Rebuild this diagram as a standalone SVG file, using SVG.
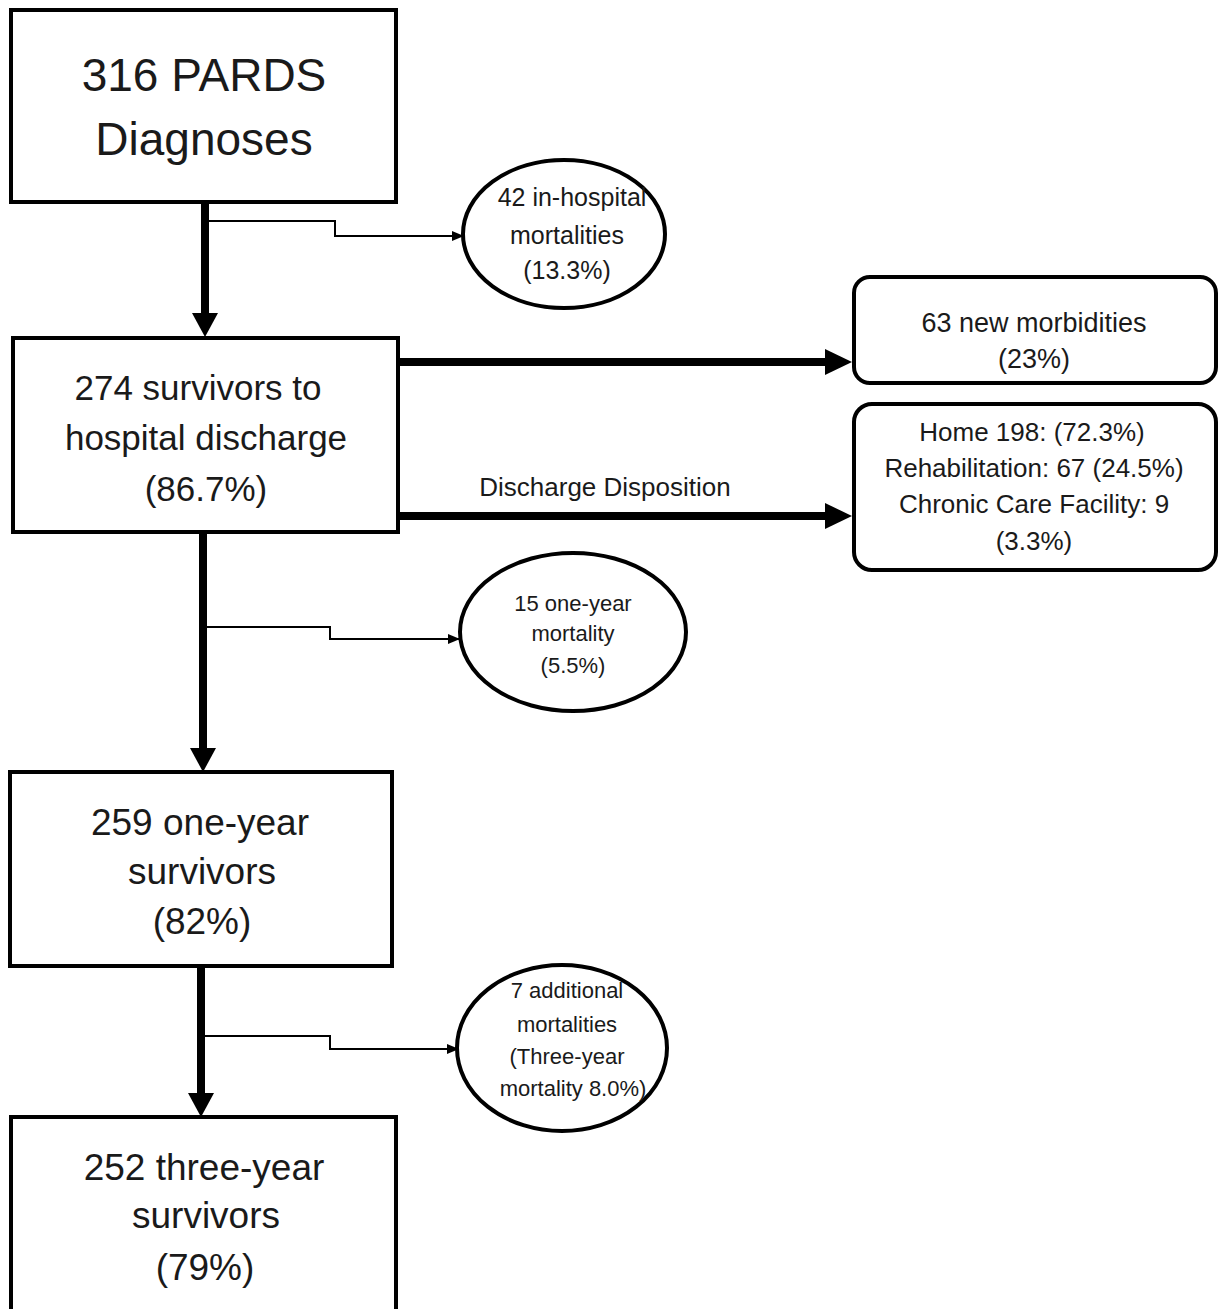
<svg xmlns="http://www.w3.org/2000/svg" width="1220" height="1309" viewBox="0 0 1220 1309">
<style>
.box{fill:#fff;stroke:#000;stroke-width:4}
.ell{fill:#fff;stroke:#000;stroke-width:4}
.thick{stroke:#000;stroke-width:8;fill:none}
.thin{stroke:#000;stroke-width:2;fill:none}
.head{fill:#000}
text{font-family:"Liberation Sans",Arial,sans-serif;fill:#1a1a1a;text-anchor:middle}
.t46{font-size:46px}.t37{font-size:37px}.t35{font-size:35px}.t27{font-size:27px}.t26{font-size:26px}.t25{font-size:25px}.t22{font-size:22px}
</style>
<defs>
<marker id="sm" markerWidth="12" markerHeight="10" refX="11" refY="5" orient="auto" markerUnits="userSpaceOnUse"><path d="M0,0 L12,5 L0,10 Z" fill="#000"/></marker>
</defs>
<g id="connectors">
<line class="thick" x1="205" y1="202" x2="205" y2="316"/>
<polygon class="head" points="192,313 218,313 205,337"/>
<polyline class="thin" points="208,221 335,221 335,236 463,236" marker-end="url(#sm)"/>
<line class="thick" x1="398" y1="362" x2="828" y2="362"/>
<polygon class="head" points="825,349 825,375 852,362"/>
<line class="thick" x1="398" y1="516" x2="828" y2="516"/>
<polygon class="head" points="825,503 825,529 852,516"/>
<text class="t26" x="605" y="496">Discharge Disposition</text>
<line class="thick" x1="203" y1="532" x2="203" y2="752"/>
<polygon class="head" points="190,748 216,748 203,772"/>
<polyline class="thin" points="206,627 330,627 330,639 459,639" marker-end="url(#sm)"/>
<line class="thick" x1="201" y1="966" x2="201" y2="1097"/>
<polygon class="head" points="188,1093 214,1093 201,1117"/>
<polyline class="thin" points="204,1036 330,1036 330,1049 458,1049" marker-end="url(#sm)"/>
</g>
<g id="n1"><rect class="box" x="11" y="10" width="385" height="192"/>
<text class="t46" x="204" y="91">316 PARDS</text><text class="t46" x="204" y="155">Diagnoses</text></g>
<g id="n2"><ellipse class="ell" cx="564" cy="234" rx="101" ry="74"/>
<text class="t25" x="572" y="206">42 in-hospital</text><text class="t25" x="567" y="244">mortalities</text><text class="t25" x="567" y="279">(13.3%)</text></g>
<g id="n3"><rect class="box" x="13" y="338" width="385" height="194"/>
<text class="t35" x="198" y="400">274 survivors to</text><text class="t35" x="206" y="450">hospital discharge</text><text class="t35" x="206" y="501">(86.7%)</text></g>
<g id="n4"><rect class="box" x="854" y="277" width="362" height="106" rx="16"/>
<text class="t27" x="1034" y="332">63 new morbidities</text><text class="t27" x="1034" y="368">(23%)</text></g>
<g id="n5"><rect class="box" x="854" y="404" width="362" height="166" rx="18"/>
<text class="t26" x="1032" y="441">Home 198: (72.3%)</text><text class="t26" x="1034" y="477">Rehabilitation: 67 (24.5%)</text><text class="t26" x="1034" y="513">Chronic Care Facility: 9</text><text class="t26" x="1034" y="550">(3.3%)</text></g>
<g id="n6"><ellipse class="ell" cx="573" cy="632" rx="113" ry="79"/>
<text class="t22" x="573" y="611">15 one-year</text><text class="t22" x="573" y="641">mortality</text><text class="t22" x="573" y="673">(5.5%)</text></g>
<g id="n7"><rect class="box" x="10" y="772" width="382" height="194"/>
<text class="t37" x="200" y="835">259 one-year</text><text class="t37" x="202" y="884">survivors</text><text class="t37" x="202" y="934">(82%)</text></g>
<g id="n8"><ellipse class="ell" cx="562" cy="1048" rx="105" ry="83"/>
<text class="t22" x="567" y="998">7 additional</text><text class="t22" x="567" y="1032">mortalities</text><text class="t22" x="567" y="1064">(Three-year</text><text class="t22" x="573" y="1096">mortality 8.0%)</text></g>
<g id="n9"><rect class="box" x="11" y="1117" width="385" height="196"/>
<text class="t37" x="204" y="1180">252 three-year</text><text class="t37" x="206" y="1228">survivors</text><text class="t37" x="205" y="1280">(79%)</text></g>
</svg>
